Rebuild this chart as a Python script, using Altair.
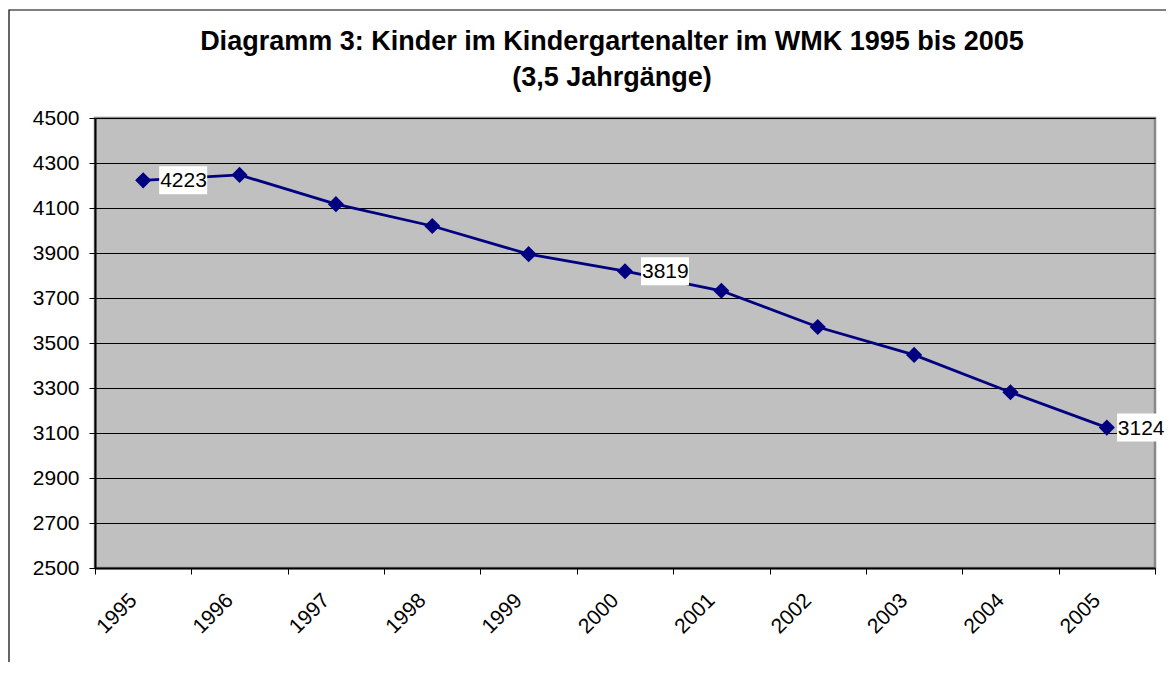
import altair as alt
import pandas as pd

years = ["1995", "1996", "1997", "1998", "1999", "2000", "2001", "2002", "2003", "2004", "2005"]
values = [4223, 4247, 4117, 4020, 3895, 3819, 3732, 3571, 3447, 3281, 3124]
label_years = ["1995", "2000"]
edge_label_years = ["2005"]
y_ticks = [2500, 2700, 2900, 3100, 3300, 3500, 3700, 3900, 4100, 4300, 4500]
title_lines = ["Diagramm 3: Kinder im Kindergartenalter im WMK 1995 bis 2005", "(3,5 Jahrgänge)"]

df = pd.DataFrame({"year": years, "value": values})
df["show"] = df["year"].isin(label_years)
df["edge"] = df["year"].isin(edge_label_years)

FONT = "Liberation Sans"
NAVY = "#000080"

x_enc = alt.X("year:O", sort=years,
              scale=alt.Scale(type="band", paddingInner=0, paddingOuter=0),
              axis=alt.Axis(title=None, labelAngle=-45, labelAlign="right", labelBaseline="middle",
                            labelFont=FONT, labelFontSize=21, labelColor="black",
                            labelPadding=23, labelOffset=-10, tickBand="extent",
                            tickSize=6, tickColor="black", tickWidth=1,
                            domainColor="black", domainWidth=2, grid=False))
y_enc = alt.Y("value:Q",
              scale=alt.Scale(domain=[2500, 4500], nice=False, zero=False),
              axis=alt.Axis(title=None, values=y_ticks, format="d", labelFont=FONT, labelFontSize=21,
                            labelColor="black", labelPadding=10, tickSize=6, tickColor="black",
                            domainColor="black", domainWidth=2, grid=True, gridColor="black",
                            gridWidth=1, gridOpacity=1))

base = alt.Chart(df)

line = base.mark_line(color=NAVY, strokeWidth=2.8).encode(x=x_enc, y=y_enc)
pts = base.mark_point(shape="diamond", filled=True, size=260, color=NAVY, opacity=1).encode(x=x_enc, y=y_enc)

box_path = "M0.25,-0.21875 L1,-0.21875 L1,0.21875 L0.25,0.21875 Z"
box_path_edge = "M0.16,-0.21875 L0.91,-0.21875 L0.91,0.21875 L0.16,0.21875 Z"
boxes = base.transform_filter("datum.show").mark_point(
    shape=box_path, size=16384, filled=True, fill="white", opacity=1, strokeWidth=0
).encode(x=x_enc, y=y_enc)
boxes_edge = base.transform_filter("datum.edge").mark_point(
    shape=box_path_edge, size=16384, filled=True, fill="white", opacity=1, strokeWidth=0
).encode(x=x_enc, y=y_enc)
labels = base.transform_filter("datum.show").mark_text(
    align="left", baseline="middle", dx=17, dy=1, font=FONT, fontSize=21, color="black"
).encode(x=x_enc, y=y_enc, text=alt.Text("value:Q", format="d"))
labels_edge = base.transform_filter("datum.edge").mark_text(
    align="left", baseline="middle", dx=11, dy=1, font=FONT, fontSize=21, color="black"
).encode(x=x_enc, y=y_enc, text=alt.Text("value:Q", format="d"))

frame = alt.Chart(pd.DataFrame({"k": [0]})).mark_rect(
    filled=False, stroke="black", strokeWidth=1.2
).encode(x=alt.value(-86), x2=alt.value(3000), y=alt.value(-108), y2=alt.value(3000))

title_df = pd.DataFrame({"t": title_lines, "i": [0, 1]})
title1 = alt.Chart(title_df).transform_filter("datum.i == 0").mark_text(
    font=FONT, fontSize=27, fontWeight="bold", color="black", align="center", baseline="alphabetic"
).encode(text="t:N", x=alt.value(517), y=alt.value(-68))
title2 = alt.Chart(title_df).transform_filter("datum.i == 1").mark_text(
    font=FONT, fontSize=27, fontWeight="bold", color="black", align="center", baseline="alphabetic"
).encode(text="t:N", x=alt.value(517), y=alt.value(-32))

chart = alt.layer(line, boxes, boxes_edge, pts, labels, labels_edge, frame, title1, title2).properties(
    width=1060, height=450,
    autosize=alt.AutoSizeParams(type="none"),
    padding={"left": 87, "top": 110, "right": 11, "bottom": 94},
).configure_view(fill="#C0C0C0", stroke="#888888", strokeWidth=2.5)

chart.save("out.html", embed_options={"renderer": "svg", "actions": False})
